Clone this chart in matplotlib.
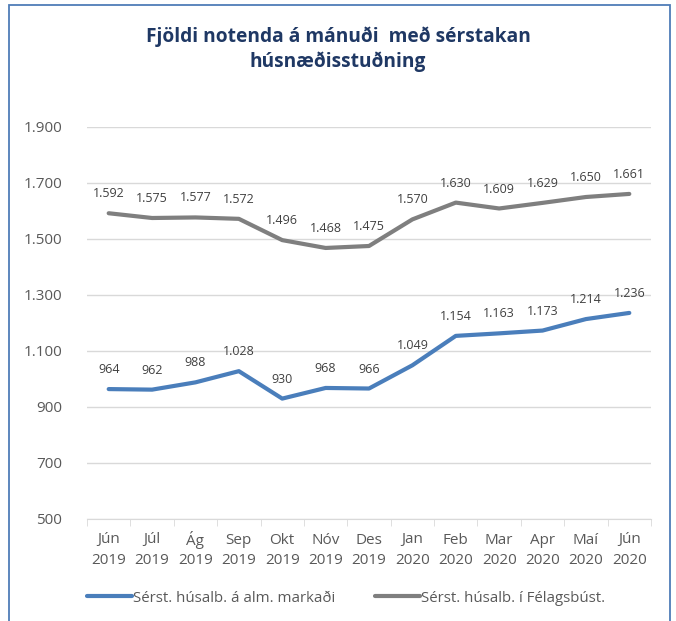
import matplotlib
matplotlib.use("Agg")
import matplotlib.pyplot as plt
from matplotlib.patches import Rectangle
from matplotlib.transforms import blended_transform_factory

months = ["Jún", "Júl", "Ág", "Sep", "Okt", "Nóv", "Des", "Jan", "Feb", "Mar", "Apr", "Maí", "Jún"]
years = ["2019"] * 7 + ["2020"] * 6
almennur = [964, 962, 988, 1028, 930, 968, 966, 1049, 1154, 1163, 1173, 1214, 1236]
felagsbust = [1592, 1575, 1577, 1572, 1496, 1468, 1475, 1570, 1630, 1609, 1629, 1650, 1661]
series_names = ["Sérst. húsalb. á alm. markaði", "Sérst. húsalb. í Félagsbúst."]
yticks = [500, 700, 900, 1100, 1300, 1500, 1700, 1900]
title = "Fjöldi notenda á mánuði  með sérstakan\nhúsnæðisstuðning"

plt.rcParams['font.family'] = ['Open Sans', 'DejaVu Sans']

def fmt(v):
    return f"{v:,}".replace(",", ".")

fig = plt.figure(figsize=(6.76, 6.21), dpi=100)
fig.patches.append(Rectangle((9/676, -0.05), 661/676, 1.05 - 5/621, transform=fig.transFigure,
                             fill=False, edgecolor="#4F7DB8", linewidth=1.3))
ax = fig.add_axes([87/676, 1-519/621, 564/676, 392/621])

blue = "#4A7EBB"
gray = "#7F7F7F"
x = list(range(len(months)))
ax.plot(x, almennur, color=blue, lw=3, solid_capstyle="round", label=series_names[0])
ax.plot(x, felagsbust, color=gray, lw=3, solid_capstyle="round", label=series_names[1])

for xi, v in zip(x, almennur):
    ax.annotate(fmt(v), (xi, v), xytext=(0, 14), textcoords="offset points",
                ha="center", va="center", fontsize=9, color="#404040")
for xi, v in zip(x, felagsbust):
    ax.annotate(fmt(v), (xi, v), xytext=(0, 14), textcoords="offset points",
                ha="center", va="center", fontsize=9, color="#404040")

ax.set_xlim(-0.5, len(months) - 0.5)
ax.set_ylim(500, 1900)
ax.set_yticks(yticks)
ax.set_yticklabels([fmt(v) for v in yticks], fontsize=11, color="#595959")
ax.set_xticks(x)
ax.set_xticklabels([""] * len(months))
trans = blended_transform_factory(ax.transData, fig.transFigure)
for xi, m, yr in zip(x, months, years):
    fig.text(0, 0, "")
    ax.text(xi, 1 - 540/621, m, transform=trans, ha="center", va="center",
            fontsize=11, color="#595959")
    ax.text(xi, 1 - 561/621, yr, transform=trans, ha="center", va="center",
            fontsize=11, color="#595959")
ax.set_xticks([i - 0.5 for i in range(len(months) + 1)], minor=True)
ax.tick_params(axis="x", which="major", length=0)
ax.tick_params(axis="x", which="minor", length=5, color="#D9D9D9")
ax.tick_params(axis="y", length=0, pad=18)
ax.grid(axis="y", color="#D9D9D9", lw=1)
ax.set_axisbelow(True)
for s in ["top", "right", "left"]:
    ax.spines[s].set_visible(False)
ax.spines["bottom"].set_color("#D9D9D9")

fig.text(338/676, 1-49/621, title, ha="center", va="center", fontsize=13.8,
         fontweight="bold", color="#1F3864", linespacing=1.3)

fig.legend(loc="center", bbox_to_anchor=(346/676, 1-598/621), ncol=2, frameon=False,
           fontsize=10.8, labelcolor="#595959", handlelength=3.0, handletextpad=0.1,
           columnspacing=2.6)

fig.savefig("out.png", dpi=100)
